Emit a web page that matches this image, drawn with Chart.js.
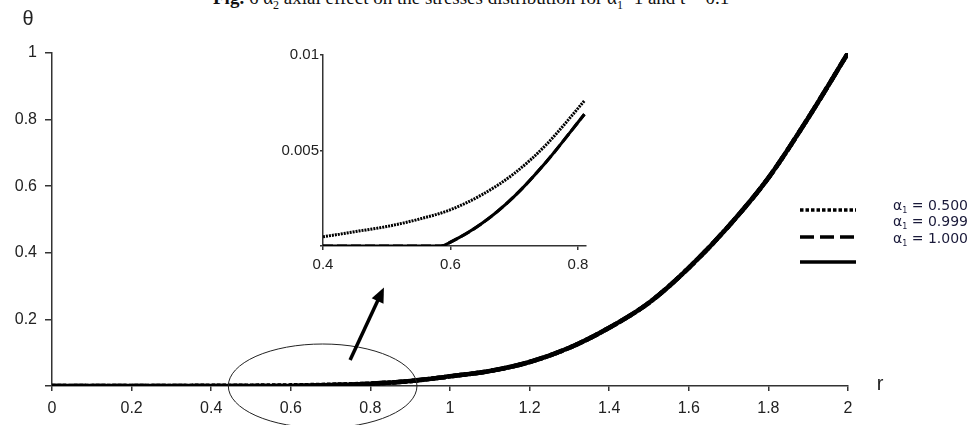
<!DOCTYPE html>
<html>
<head>
<meta charset="utf-8">
<script src="https://cdn.jsdelivr.net/npm/chart.js@4.4.1/dist/chart.umd.min.js"></script>
<style>
  html, body { margin: 0; padding: 0; background: #fff; }
  #wrap { position: relative; width: 974px; height: 425px; overflow: hidden; }
  #main { position: absolute; left: 0; top: 0; }
  #inset { position: absolute; left: 270px; top: 40px; }
  #fig { position: absolute; left: 213px; top: -12px; font: 19px 'Liberation Serif', serif; line-height: 19px; color: #111; white-space: nowrap; }
  #fig sub { font-size: 12px; }
</style>
</head>
<body>
<div id="wrap">
  <div id="fig"><b>Fig.</b> 6 α<sub>2</sub> axial effect on the stresses distribution for α<sub>1</sub>=1 and t = 0.1</div>
  <canvas id="main" width="974" height="425"></canvas>
  <canvas id="inset" width="330" height="240"></canvas>
</div>
<script>
// main plot: r from 0 to 2
const rMain = [0, 0.1, 0.2, 0.3, 0.4, 0.5, 0.6, 0.7, 0.8, 0.9, 1.0, 1.1, 1.2, 1.3, 1.4, 1.5, 1.6, 1.7, 1.8, 1.9, 2.0];
const theta050  = [0, 0.0001, 0.0002, 0.0003, 0.0005, 0.001, 0.0019, 0.0038, 0.0072, 0.0145, 0.029, 0.045, 0.072, 0.115, 0.175, 0.25, 0.355, 0.48, 0.625, 0.805, 1.0];
const theta0999 = [0, 0, 0, 0, 0, 0, 0.0003, 0.0027, 0.0069, 0.015, 0.029, 0.045, 0.072, 0.115, 0.175, 0.25, 0.355, 0.48, 0.625, 0.805, 1.0];
const theta100  = [0, 0, 0, 0, 0, 0, 0.0003, 0.0027, 0.0069, 0.015, 0.029, 0.045, 0.072, 0.115, 0.175, 0.25, 0.355, 0.48, 0.625, 0.805, 1.0];

// zoomed inset: r from 0.4 to 0.8
const rInset050 = [0.40, 0.45, 0.50, 0.55, 0.60, 0.65, 0.70, 0.75, 0.81];
const inset050  = [0.00048, 0.00075, 0.00102, 0.0014, 0.0019, 0.0027, 0.0038, 0.0053, 0.0076];
const rInset    = [0.40, 0.45, 0.50, 0.55, 0.585, 0.60, 0.65, 0.70, 0.75, 0.81];
const inset0999 = [0, 0, 0, 0, 0, 0.0002, 0.0012, 0.0026, 0.0044, 0.0069];
const inset100  = [0, 0, 0, 0, 0, 0.0002, 0.0012, 0.0026, 0.0044, 0.0069];

const mainTicksX = [0, 0.2, 0.4, 0.6, 0.8, 1, 1.2, 1.4, 1.6, 1.8, 2];
const mainTicksY = [0, 0.2, 0.4, 0.6, 0.8, 1];
const insetTicksX = [0.4, 0.6, 0.8];
const insetTicksY = [0, 0.005, 0.01];

const LEGEND = ['α|1| = 0.500', 'α|1| = 0.999', 'α|1| = 1.000'];

const AXIS = '#333';
const INK = '#000';
const TICK_FONT = { family: 'Liberation Sans, Arial', size: 16 };
const INSET_FONT = { family: 'Liberation Sans, Arial', size: 15 };

function pts(xs, ys) {
  return xs.map((x, i) => ({ x, y: ys[i] }));
}

function fmt(v) {
  return String(Number(v.toFixed(3)));
}

function series(label, xs, ys, dash, width) {
  return {
    label, data: pts(xs, ys),
    borderColor: INK, borderWidth: width, borderDash: dash,
    pointRadius: 0, fill: false, tension: 0.35, cubicInterpolationMode: 'monotone',
  };
}

function axis(min, max, ticks, opts) {
  return {
    type: 'linear', min, max,
    afterBuildTicks: s => { s.ticks = ticks.map(v => ({ value: v })); },
    border: { color: AXIS, width: 1.5 },
    grid: { drawOnChartArea: false, color: AXIS, lineWidth: 1.5, tickLength: opts.tickLength },
    ticks: {
      color: '#222', font: opts.font, padding: opts.padding,
      callback: v => (opts.hideZero && v === 0) ? '' : fmt(v),
    },
    afterFit: opts.fit,
  };
}

// theta / r labels, ellipse, arrow and the legend
const decor = {
  id: 'decor',
  afterDraw(chart) {
    const { ctx, scales: { x, y } } = chart;
    ctx.save();
    ctx.fillStyle = '#222';
    ctx.font = '20px "Liberation Sans", Arial';
    ctx.textAlign = 'center';
    ctx.textBaseline = 'middle';
    ctx.fillText('θ', 28, 19);
    ctx.fillText('r', 880, 384);

    // ellipse round the zoomed region
    const cx = x.getPixelForValue(0.68), cy = y.getPixelForValue(0);
    const rx = x.getPixelForValue(0.917) - cx;
    ctx.strokeStyle = '#222';
    ctx.lineWidth = 1;
    ctx.beginPath();
    ctx.ellipse(cx, cy, rx, 42, 0, 0, Math.PI * 2);
    ctx.stroke();

    // arrow to the inset
    const x0 = x.getPixelForValue(0.749), y0 = y.getPixelForValue(0.078);
    const x1 = x.getPixelForValue(0.834), y1 = y.getPixelForValue(0.296);
    const ang = Math.atan2(y1 - y0, x1 - x0);
    ctx.strokeStyle = INK;
    ctx.fillStyle = INK;
    ctx.lineWidth = 3.5;
    ctx.beginPath();
    ctx.moveTo(x0, y0);
    ctx.lineTo(x1 - 9 * Math.cos(ang), y1 - 9 * Math.sin(ang));
    ctx.stroke();
    ctx.beginPath();
    ctx.moveTo(x1, y1);
    ctx.lineTo(x1 - 15 * Math.cos(ang) + 6.5 * Math.sin(ang), y1 - 15 * Math.sin(ang) - 6.5 * Math.cos(ang));
    ctx.lineTo(x1 - 15 * Math.cos(ang) - 6.5 * Math.sin(ang), y1 - 15 * Math.sin(ang) + 6.5 * Math.cos(ang));
    ctx.closePath();
    ctx.fill();

    // legend samples
    const samples = [[210, [3.5, 2]], [237, [14, 6]], [262, []]];
    ctx.lineWidth = 3.5;
    samples.forEach(([sy, dash]) => {
      ctx.setLineDash(dash);
      ctx.beginPath();
      ctx.moveTo(800, sy);
      ctx.lineTo(856, sy);
      ctx.stroke();
    });
    ctx.setLineDash([]);

    // legend text with subscript
    ctx.fillStyle = '#1a1a3a';
    ctx.textAlign = 'left';
    ctx.textBaseline = 'alphabetic';
    const rows = [210, 226, 243];
    LEGEND.forEach((t, i) => {
      const [a, sub, rest] = t.split('|');
      let px = 893;
      ctx.font = '14px "DejaVu Sans", sans-serif';
      ctx.fillText(a, px, rows[i]);
      px += ctx.measureText(a).width;
      ctx.font = '8px "DejaVu Sans", sans-serif';
      ctx.fillText(sub, px, rows[i] + 3);
      px += ctx.measureText(sub).width;
      ctx.font = '14px "DejaVu Sans", sans-serif';
      ctx.fillText(rest, px, rows[i]);
    });
    ctx.restore();
  }
};

new Chart(document.getElementById('main'), {
  type: 'line',
  data: {
    datasets: [
      series('α1 = 0.500', rMain, theta050, [3.5, 2], 4.5),
      series('α1 = 0.999', rMain, theta0999, [14, 6], 4.5),
      series('α1 = 1.000', rMain, theta100, [], 4.5),
    ]
  },
  options: {
    responsive: false, animation: false, devicePixelRatio: 1,
    layout: { padding: { left: 0, top: 53, right: 126, bottom: 0 } },
    plugins: { legend: { display: false }, tooltip: { enabled: false } },
    scales: {
      x: axis(0, 2, mainTicksX, { tickLength: 5, padding: 8, font: TICK_FONT, fit: s => { s.height = 39; } }),
      y: axis(0, 1, mainTicksY, { tickLength: 7, padding: 8, font: TICK_FONT, hideZero: true, fit: s => { s.width = 52; } }),
    }
  },
  plugins: [decor]
});

new Chart(document.getElementById('inset'), {
  type: 'line',
  data: {
    datasets: [
      series('α1 = 0.500', rInset050, inset050, [2, 1], 3),
      series('α1 = 0.999', rInset, inset0999, [10, 4], 3),
      series('α1 = 1.000', rInset, inset100, [], 3),
    ]
  },
  options: {
    responsive: false, animation: false, devicePixelRatio: 1,
    layout: { padding: { left: 0, top: 15, right: 14, bottom: 0 } },
    plugins: { legend: { display: false }, tooltip: { enabled: false } },
    scales: {
      x: axis(0.4, 0.8125, insetTicksX, { tickLength: 4, padding: 6, font: INSET_FONT, fit: s => { s.height = 34; } }),
      y: axis(0, 0.01, insetTicksY, { tickLength: 3, padding: 1, font: INSET_FONT, hideZero: true, fit: s => { s.width = 53; } }),
    }
  }
});
</script>
</body>
</html>
